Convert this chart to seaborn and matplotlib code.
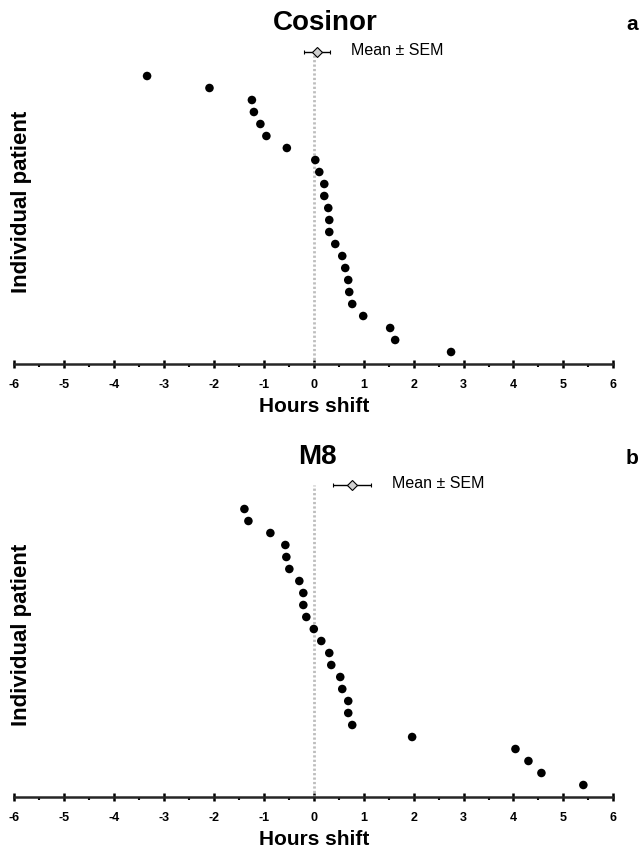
import numpy as np
import pandas as pd
import matplotlib
matplotlib.use("Agg")
import matplotlib.pyplot as plt
from matplotlib.ticker import MultipleLocator
import seaborn as sns

# ---- data (hours shift per individual patient, top to bottom) ----
cosinor_shift = [-3.34, -2.09, -1.24, -1.20, -1.07, -0.95, -0.54, 0.03,
                 0.11, 0.21, 0.21, 0.29, 0.31, 0.31, 0.43, 0.57,
                 0.63, 0.69, 0.71, 0.77, 0.99, 1.53, 1.63, 2.75]
m8_shift = [-1.39, -1.31, -0.87, -0.57, -0.55, -0.49, -0.29, -0.21,
            -0.21, -0.15, 0.00, 0.15, 0.31, 0.35, 0.53, 0.57,
            0.69, 0.69, 0.77, 1.97, 4.04, 4.30, 4.56, 5.40]
panel_titles = ["Cosinor", "M8"]
panel_letters = ["a", "b"]
x_ticks = [-6, -5, -4, -3, -2, -1, 0, 1, 2, 3, 4, 5, 6]
legend_label = "Mean \u00b1 SEM"

sns.set_style("white")
plt.rcParams["font.family"] = ["Liberation Sans", "DejaVu Sans"]
plt.rcParams["text.color"] = "black"
plt.rcParams["axes.labelcolor"] = "black"
plt.rcParams["xtick.color"] = "black"

fig = plt.figure(figsize=(6.4, 8.49), dpi=100)
W, H = 640.0, 849.0
ax_left = 14.3 / W
ax_width = (613.3 - 14.3) / W
ax_height = 324.0 / H
axes_bottoms = [1 - 364.0 / H, 1 - 797.0 / H]
title_pos = [(325.0, 23.0), (317.0, 457.0)]
letter_pos = [(632.0, 24.0), (632.0, 459.0)]

for k, vals in enumerate([cosinor_shift, m8_shift]):
    ax = fig.add_axes([ax_left, axes_bottoms[k], ax_width, ax_height])
    n = len(vals)
    df = pd.DataFrame({"shift": vals, "patient": np.arange(n, 0, -1)})
    mean_y = n + 2

    # zero reference line
    ax.plot([0, 0], [0, mean_y], color="#bdbdbd", lw=2.0, ls=(0, (0.8, 0.8)), zorder=1)

    sns.scatterplot(data=df, x="shift", y="patient", ax=ax, color="black",
                    s=38, edgecolor="none", zorder=3, legend=False)

    arr = np.asarray(vals)
    mean = arr.mean()
    sem = arr.std(ddof=1) / np.sqrt(n)
    ax.errorbar([mean], [mean_y], xerr=[sem], fmt="D", ms=5, mfc="#d0d0d0",
                mec="black", mew=0.8, ecolor="black", elinewidth=1.0,
                capsize=1.5, capthick=1.0, zorder=4)
    ax.annotate(legend_label, xy=(mean + sem, mean_y), xytext=(15, 1),
                textcoords="offset points", ha="left", va="center",
                fontsize=11.5)

    ax.set_xlim(-6, 6)
    ax.set_ylim(0, 27)
    ax.set_xticks(x_ticks)
    ax.set_xticklabels([str(t) for t in x_ticks], fontweight="bold", fontsize=9)
    ax.xaxis.set_minor_locator(MultipleLocator(0.5))
    ax.set_yticks([])
    for side in ["top", "right", "left"]:
        ax.spines[side].set_visible(False)
    ax.spines["bottom"].set_linewidth(1.8)
    ax.tick_params(axis="x", which="major", direction="inout", length=6,
                   width=1.8, pad=8, bottom=True)
    ax.tick_params(axis="x", which="minor", direction="out", length=2.5,
                   width=1.5, bottom=True)
    ax.set_xlabel("Hours shift", fontweight="bold", fontsize=15, labelpad=4)
    ax.set_ylabel("Individual patient", fontweight="bold", fontsize=16)
    ax.yaxis.set_label_coords(0.03, 0.5)
    ax.patch.set_alpha(0)
    for c in ax.collections:
        c.set_clip_on(False)

    tx, ty = title_pos[k]
    fig.text(tx / W, 1 - ty / H, panel_titles[k], ha="center", va="center",
             fontsize=20, fontweight="bold")
    lx, ly = letter_pos[k]
    fig.text(lx / W, 1 - ly / H, panel_letters[k], ha="center", va="center",
             fontsize=15, fontweight="bold")

fig.savefig("out.png", dpi=100)
